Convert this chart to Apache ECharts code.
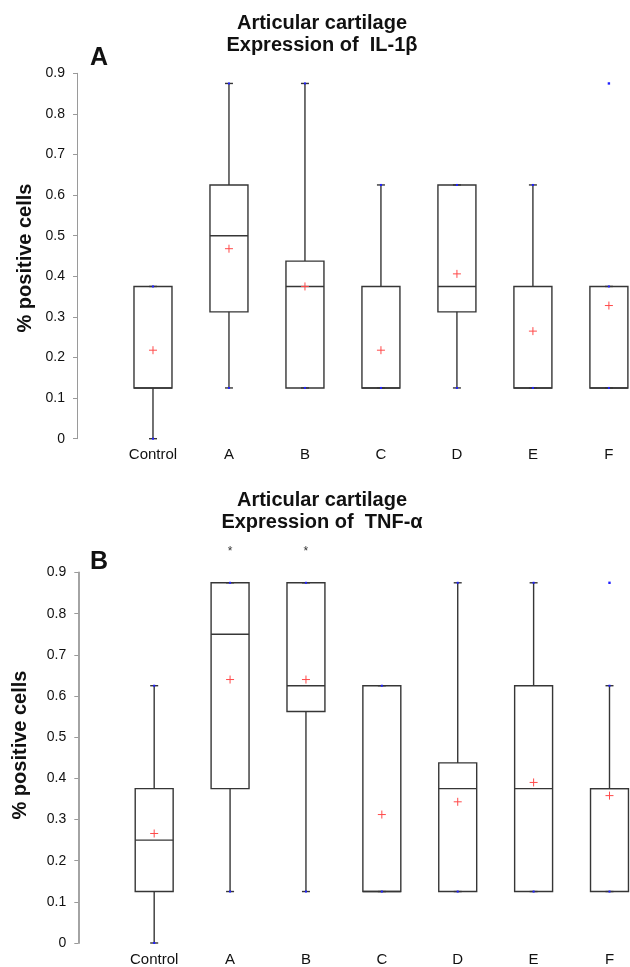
<!DOCTYPE html>
<html>
<head>
<meta charset="utf-8">
<script src="https://cdn.jsdelivr.net/npm/echarts@6/dist/echarts.min.js"></script>
<style>
html,body{margin:0;padding:0;background:#fff;}
#chart{width:630px;height:967px;}
</style>
</head>
<body>
<div id="chart"></div>
<script>
// Categories
const categories = ['Control', 'A', 'B', 'C', 'D', 'E', 'F'];
const yTicks = [0, 0.1, 0.2, 0.3, 0.4, 0.5, 0.6, 0.7, 0.8, 0.9];

// Panel A: IL-1β
const il1bMin    = [0, 0.125, 0.125, 0.125, 0.125, 0.125, 0.125];
const il1bQ1     = [0.125, 0.3125, 0.125, 0.125, 0.3125, 0.125, 0.125];
const il1bMedian = [0.125, 0.5, 0.375, 0.125, 0.375, 0.125, 0.125];
const il1bQ3     = [0.375, 0.625, 0.4375, 0.375, 0.625, 0.375, 0.375];
const il1bMax    = [0.375, 0.875, 0.875, 0.625, 0.625, 0.625, 0.375];
const il1bMean   = [0.218, 0.468, 0.375, 0.218, 0.406, 0.265, 0.328];
const il1bOutlierCat = ['F'];
const il1bOutlierVal = [0.875];

// Panel B: TNF-α
const tnfMin    = [0, 0.125, 0.125, 0.125, 0.125, 0.125, 0.125];
const tnfQ1     = [0.125, 0.375, 0.5625, 0.125, 0.125, 0.125, 0.125];
const tnfMedian = [0.25, 0.75, 0.625, 0.125, 0.375, 0.375, 0.375];
const tnfQ3     = [0.375, 0.875, 0.875, 0.625, 0.4375, 0.625, 0.375];
const tnfMax    = [0.625, 0.875, 0.875, 0.625, 0.875, 0.875, 0.625];
const tnfMean   = [0.266, 0.64, 0.64, 0.312, 0.343, 0.39, 0.358];
const tnfOutlierCat = ['F'];
const tnfOutlierVal = [0.875];
const tnfSignificant = ['A', 'B'];

const FONT = '"Liberation Sans", Arial, sans-serif';
const LINE = '#363636';

function boxRender(params, api) {
  const i = api.value(0);
  const pMin = api.coord([i, api.value(1)]);
  const pQ1 = api.coord([i, api.value(2)]);
  const pMed = api.coord([i, api.value(3)]);
  const pQ3 = api.coord([i, api.value(4)]);
  const pMax = api.coord([i, api.value(5)]);
  const half = api.size([1, 0])[0] / 4;
  const x = pMed[0];
  const cap = 4;
  const ls = { stroke: LINE, lineWidth: 1.4 };
  const children = [
    { type: 'line', shape: { x1: x, y1: pQ3[1], x2: x, y2: pMax[1] }, style: ls },
    { type: 'line', shape: { x1: x, y1: pQ1[1], x2: x, y2: pMin[1] }, style: ls },
    { type: 'line', shape: { x1: x - cap, y1: pMax[1], x2: x + cap, y2: pMax[1] }, style: ls },
    { type: 'line', shape: { x1: x - cap, y1: pMin[1], x2: x + cap, y2: pMin[1] }, style: ls },
    { type: 'rect', shape: { x: x - half, y: pQ3[1], width: 2 * half, height: pQ1[1] - pQ3[1] }, style: { stroke: LINE, lineWidth: 1.4, fill: 'none' } },
    { type: 'line', shape: { x1: x - half, y1: pMed[1], x2: x + half, y2: pMed[1] }, style: ls },
    { type: 'rect', shape: { x: x - 1, y: pMax[1] - 1, width: 2, height: 2 }, style: { fill: '#2020ff' } },
    { type: 'rect', shape: { x: x - 1, y: pMin[1] - 1, width: 2, height: 2 }, style: { fill: '#2020ff' } }
  ];
  return { type: 'group', children: children };
}

function meanRender(params, api) {
  const p = api.coord([api.value(0), api.value(1)]);
  const s = { stroke: '#ff4a4a', lineWidth: 1 };
  return { type: 'group', children: [
    { type: 'line', shape: { x1: p[0] - 4, y1: p[1], x2: p[0] + 4, y2: p[1] }, style: s },
    { type: 'line', shape: { x1: p[0], y1: p[1] - 4, x2: p[0], y2: p[1] + 4 }, style: s }
  ] };
}

function outlierRender(params, api) {
  const p = api.coord([api.value(0), api.value(1)]);
  return { type: 'rect', shape: { x: p[0] - 1.2, y: p[1] - 1.2, width: 2.4, height: 2.4 }, style: { fill: '#2020ff' } };
}

function starRender(params, api) {
  const p = api.coord([api.value(0), 0.9]);
  return { type: 'text', x: p[0], y: p[1] - 21, style: { text: '*', font: '12px ' + FONT, fill: '#333', align: 'center', verticalAlign: 'middle' } };
}

function boxData(mn, q1, md, q3, mx) {
  return categories.map((c, i) => [i, mn[i], q1[i], md[i], q3[i], mx[i]]);
}
function pairData(vals) { return categories.map((c, i) => [i, vals[i]]); }
function outData(cats, vals) { return cats.map((c, k) => [categories.indexOf(c), vals[k]]); }

function xAxisCfg(gi, maxV) {
  return {
    type: 'value', gridIndex: gi, min: -1, max: maxV, interval: 1,
    splitLine: { show: false }, axisLine: { show: false, onZero: false }, axisTick: { show: false },
    axisLabel: { color: '#111', fontSize: 15, fontFamily: FONT, margin: 9, showMinLabel: true, showMaxLabel: true, hideOverlap: false,
      formatter: function (v) {
        const r = Math.round(v);
        return (Math.abs(v - r) < 1e-6 && r >= 0 && r < categories.length) ? categories[r] : '';
      } }
  };
}
function yAxisCfg(gi, lw) {
  return {
    type: 'value', gridIndex: gi, min: 0, max: 0.9, interval: 0.1,
    splitLine: { show: false },
    axisLine: { show: true, onZero: false, lineStyle: { color: '#9a9a9a', width: lw } },
    axisTick: { show: true, length: 4, lineStyle: { color: '#9a9a9a', width: 1 } },
    axisLabel: { color: '#111', fontSize: 14, fontFamily: FONT, margin: 12,
      formatter: function (v) { return String(Math.round(v * 10) / 10); } }
  };
}

const chart = echarts.init(document.getElementById('chart'), null, { renderer: 'canvas' });
chart.setOption({
  backgroundColor: '#ffffff',
  animation: false,
  grid: [
    { left: 77, top: 73.3, width: 553, height: 365.4 },
    { left: 78.3, top: 572.5, width: 551.7, height: 371.5 }
  ],
  xAxis: [xAxisCfg(0, -1 + 553 / 76.4), xAxisCfg(1, -1 + 551.7 / 76.3)],
  yAxis: [yAxisCfg(0, 1), yAxisCfg(1, 1.8)],
  graphic: [
    { type: 'text', x: 322, y: 23, style: { text: 'Articular cartilage', font: 'bold 20px ' + FONT, fill: '#111', align: 'center', verticalAlign: 'middle' } },
    { type: 'text', x: 322, y: 45, style: { text: 'Expression of  IL-1β', font: 'bold 20px ' + FONT, fill: '#111', align: 'center', verticalAlign: 'middle' } },
    { type: 'text', x: 99, y: 58, style: { text: 'A', font: 'bold 25px ' + FONT, fill: '#111', align: 'center', verticalAlign: 'middle' } },
    { type: 'text', x: 25, y: 258, rotation: Math.PI / 2, style: { text: '% positive cells', font: 'bold 20px ' + FONT, fill: '#111', align: 'center', verticalAlign: 'middle' } },
    { type: 'text', x: 322, y: 500, style: { text: 'Articular cartilage', font: 'bold 20px ' + FONT, fill: '#111', align: 'center', verticalAlign: 'middle' } },
    { type: 'text', x: 322, y: 522, style: { text: 'Expression of  TNF-α', font: 'bold 20px ' + FONT, fill: '#111', align: 'center', verticalAlign: 'middle' } },
    { type: 'text', x: 99, y: 562, style: { text: 'B', font: 'bold 25px ' + FONT, fill: '#111', align: 'center', verticalAlign: 'middle' } },
    { type: 'text', x: 20, y: 745, rotation: Math.PI / 2, style: { text: '% positive cells', font: 'bold 20px ' + FONT, fill: '#111', align: 'center', verticalAlign: 'middle' } }
  ],
  series: [
    { type: 'custom', xAxisIndex: 0, yAxisIndex: 0, renderItem: boxRender, encode: { x: 0, y: [1, 2, 3, 4, 5] }, data: boxData(il1bMin, il1bQ1, il1bMedian, il1bQ3, il1bMax) },
    { type: 'custom', xAxisIndex: 0, yAxisIndex: 0, renderItem: meanRender, encode: { x: 0, y: 1 }, data: pairData(il1bMean) },
    { type: 'custom', xAxisIndex: 0, yAxisIndex: 0, renderItem: outlierRender, encode: { x: 0, y: 1 }, data: outData(il1bOutlierCat, il1bOutlierVal) },
    { type: 'custom', xAxisIndex: 1, yAxisIndex: 1, renderItem: boxRender, encode: { x: 0, y: [1, 2, 3, 4, 5] }, data: boxData(tnfMin, tnfQ1, tnfMedian, tnfQ3, tnfMax) },
    { type: 'custom', xAxisIndex: 1, yAxisIndex: 1, renderItem: meanRender, encode: { x: 0, y: 1 }, data: pairData(tnfMean) },
    { type: 'custom', xAxisIndex: 1, yAxisIndex: 1, renderItem: outlierRender, encode: { x: 0, y: 1 }, data: outData(tnfOutlierCat, tnfOutlierVal) },
    { type: 'custom', xAxisIndex: 1, yAxisIndex: 1, renderItem: starRender, encode: { x: 0 }, data: tnfSignificant.map(c => [categories.indexOf(c)]) }
  ]
});
</script>
</body>
</html>
